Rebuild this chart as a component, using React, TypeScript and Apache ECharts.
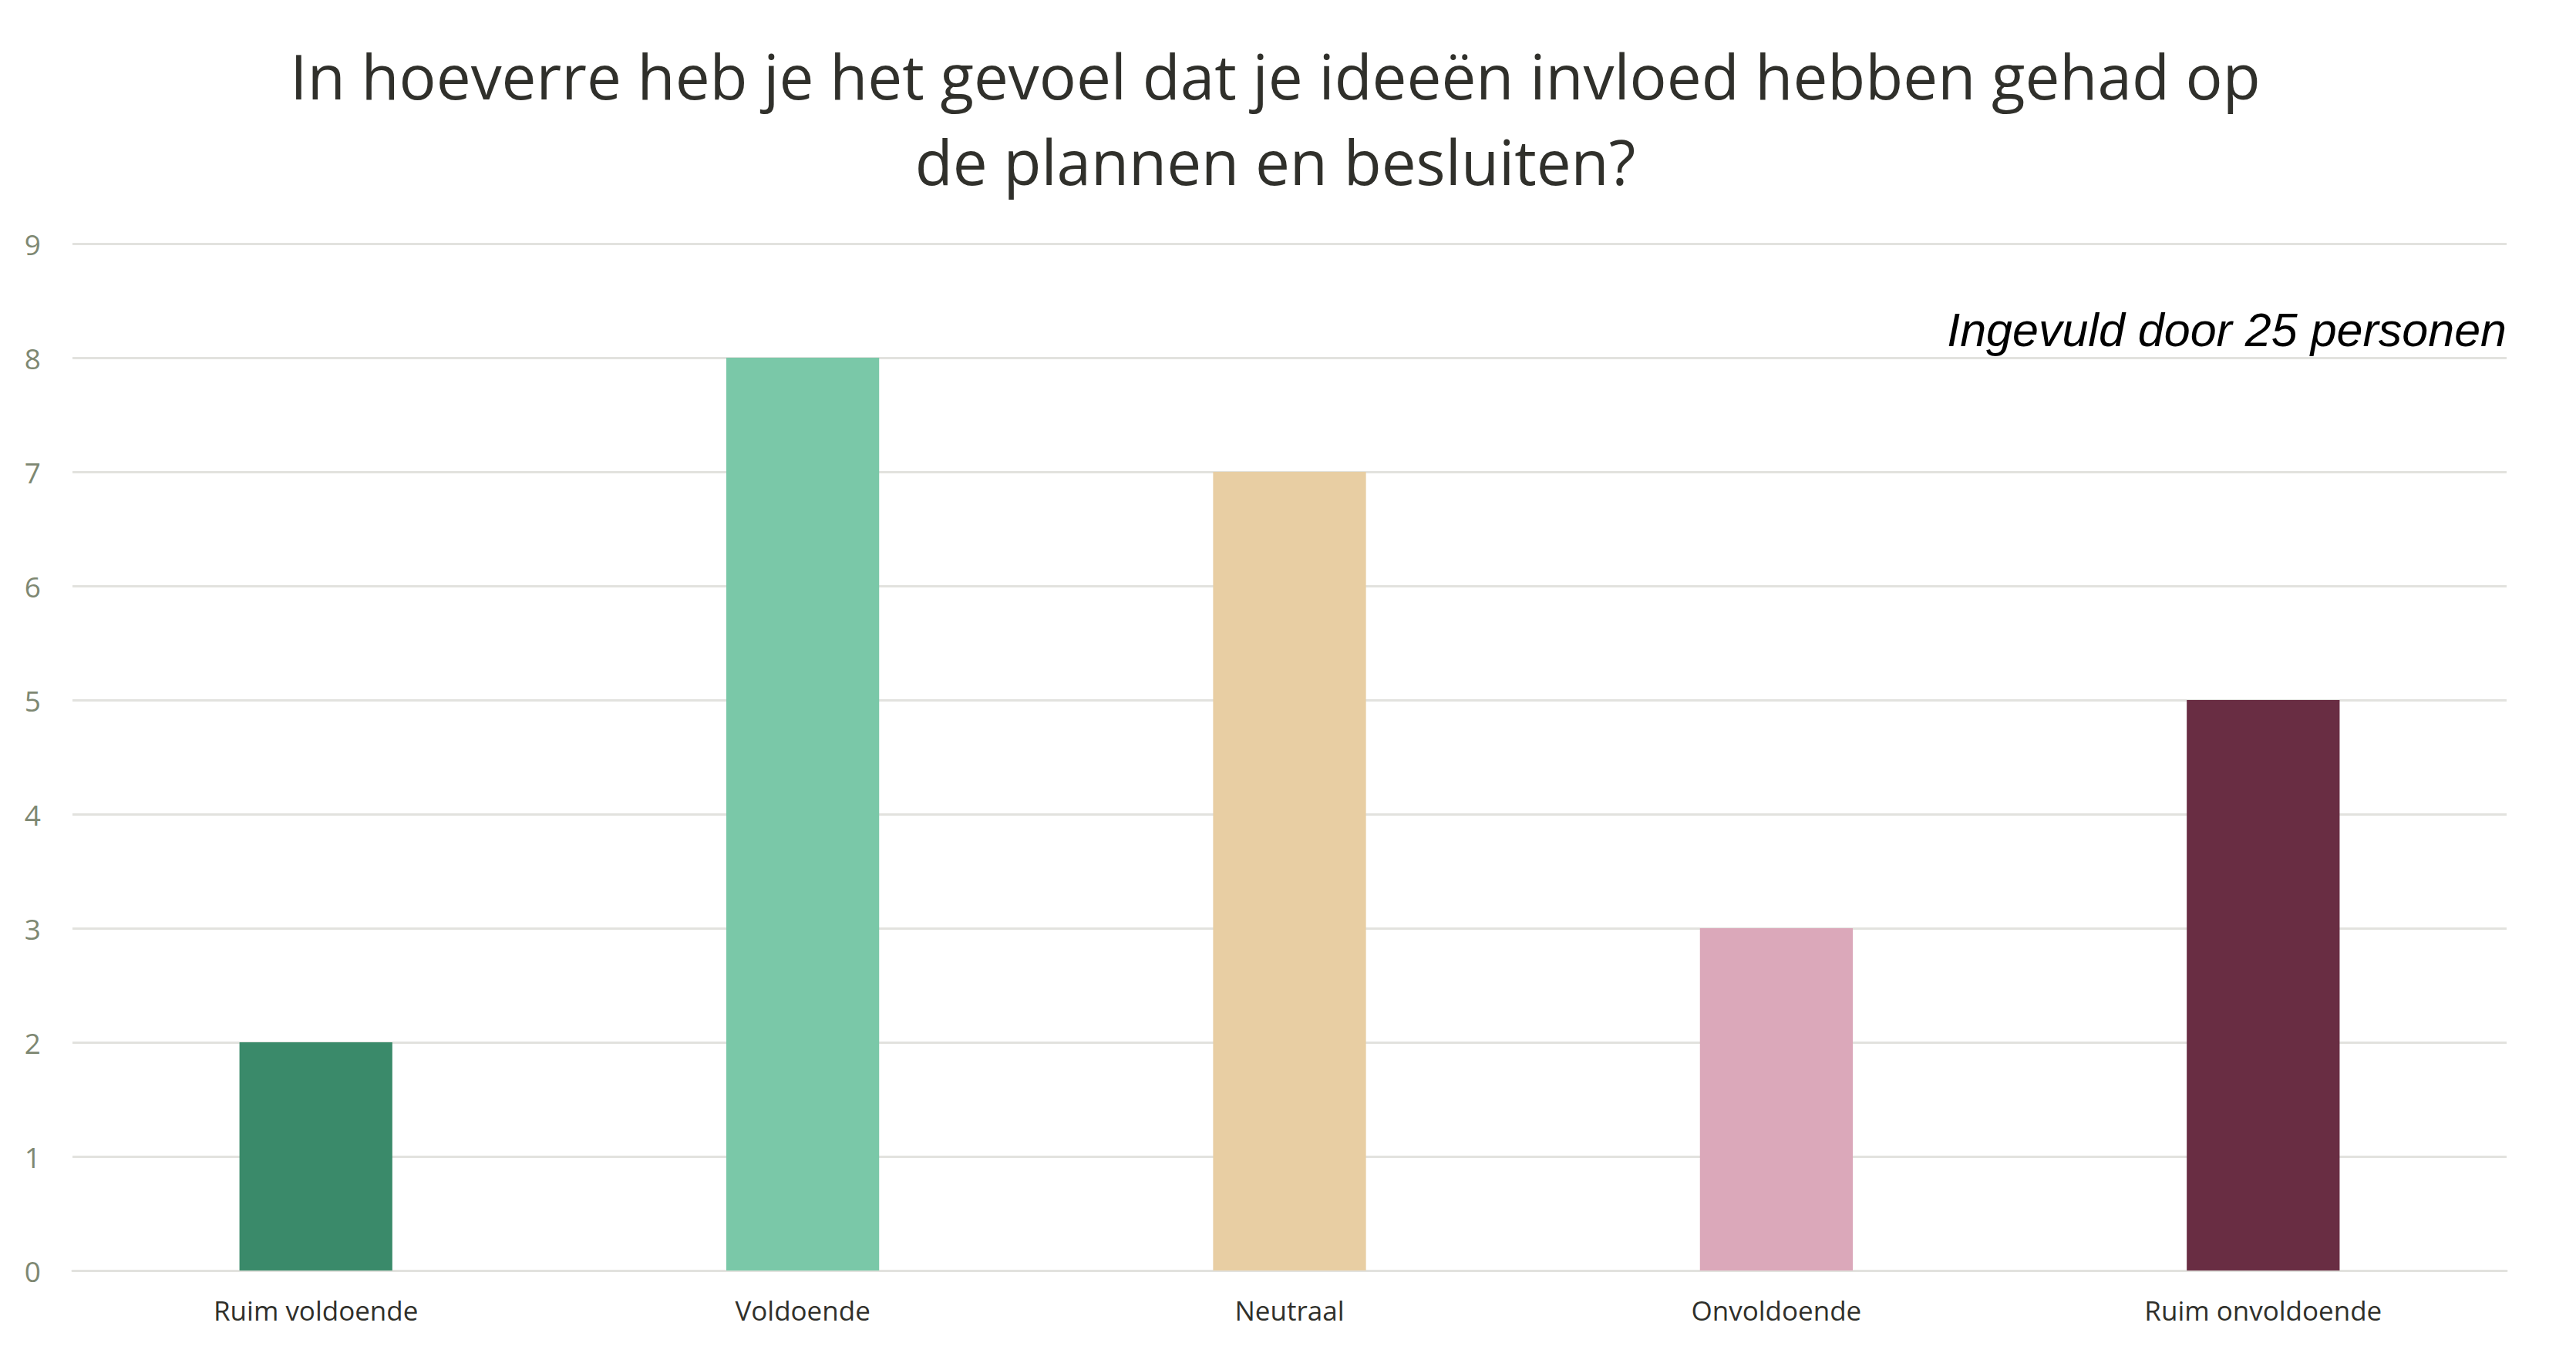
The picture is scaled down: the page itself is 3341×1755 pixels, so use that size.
import React, { useEffect, useRef } from "react";
import * as echarts from "echarts";

const titleLines = [
  "In hoeverre heb je het gevoel dat je ideeën invloed hebben gehad op",
  "de plannen en besluiten?",
];
const note = "Ingevuld door 25 personen";
const categories = ["Ruim voldoende", "Voldoende", "Neutraal", "Onvoldoende", "Ruim onvoldoende"];
const values = [2, 8, 7, 3, 5];
const barColors = ["#3A8A6A", "#7AC8A8", "#E8CEA3", "#DBA8BA", "#692D43"];
const yMin = 0;
const yMax = 9;
const yInterval = 1;

export default function App() {
  const ref = useRef<HTMLDivElement>(null);
  useEffect(() => {
    if (!ref.current) return;
    const chart = echarts.init(ref.current, undefined, { renderer: "svg" });
    chart.setOption({
      animation: false,
      backgroundColor: "#FFFFFF",
      grid: { left: 94, right: 90, top: 316, bottom: 107, containLabel: false },
      graphic: [
        {
          type: "text",
          x: 1654,
          y: 97,
          style: {
            text: titleLines[0],
            fontFamily: "Open Sans",
            fontSize: 80,
            fill: "#30302B",
            align: "center",
            verticalAlign: "middle",
          },
        },
        {
          type: "text",
          x: 1654,
          y: 208,
          style: {
            text: titleLines[1],
            fontFamily: "Open Sans",
            fontSize: 80,
            fill: "#30302B",
            align: "center",
            verticalAlign: "middle",
          },
        },
        {
          type: "text",
          x: 3251,
          y: 428,
          z: 100,
          style: {
            text: note,
            fontFamily: "Liberation Sans",
            fontStyle: "italic",
            fontSize: 61,
            fill: "#000000",
            align: "right",
            verticalAlign: "middle",
          },
        },
      ],
      xAxis: {
        type: "category",
        data: categories,
        axisLine: { show: true, lineStyle: { color: "#E2E2DE", width: 3 } },
        axisTick: { show: false },
        axisLabel: {
          margin: 34,
          fontFamily: "Open Sans",
          fontSize: 35,
          color: "#30302B",
        },
      },
      yAxis: {
        type: "value",
        min: yMin,
        max: yMax,
        interval: yInterval,
        axisLine: { show: false },
        axisTick: { show: false },
        splitLine: { show: true, lineStyle: { color: "#E2E2DE", width: 3 } },
        axisLabel: {
          margin: 41,
          fontFamily: "Open Sans",
          fontSize: 37,
          color: "#7E8872",
        },
      },
      series: [
        {
          type: "bar",
          barWidth: "31.4%",
          data: values.map((v, i) => ({ value: v, itemStyle: { color: barColors[i] } })),
        },
      ],
    });
    return () => chart.dispose();
  }, []);
  return (
    <div
      ref={ref}
      style={{ position: "fixed", left: 0, top: 0, width: 3341, height: 1755 }}
    />
  );
}
